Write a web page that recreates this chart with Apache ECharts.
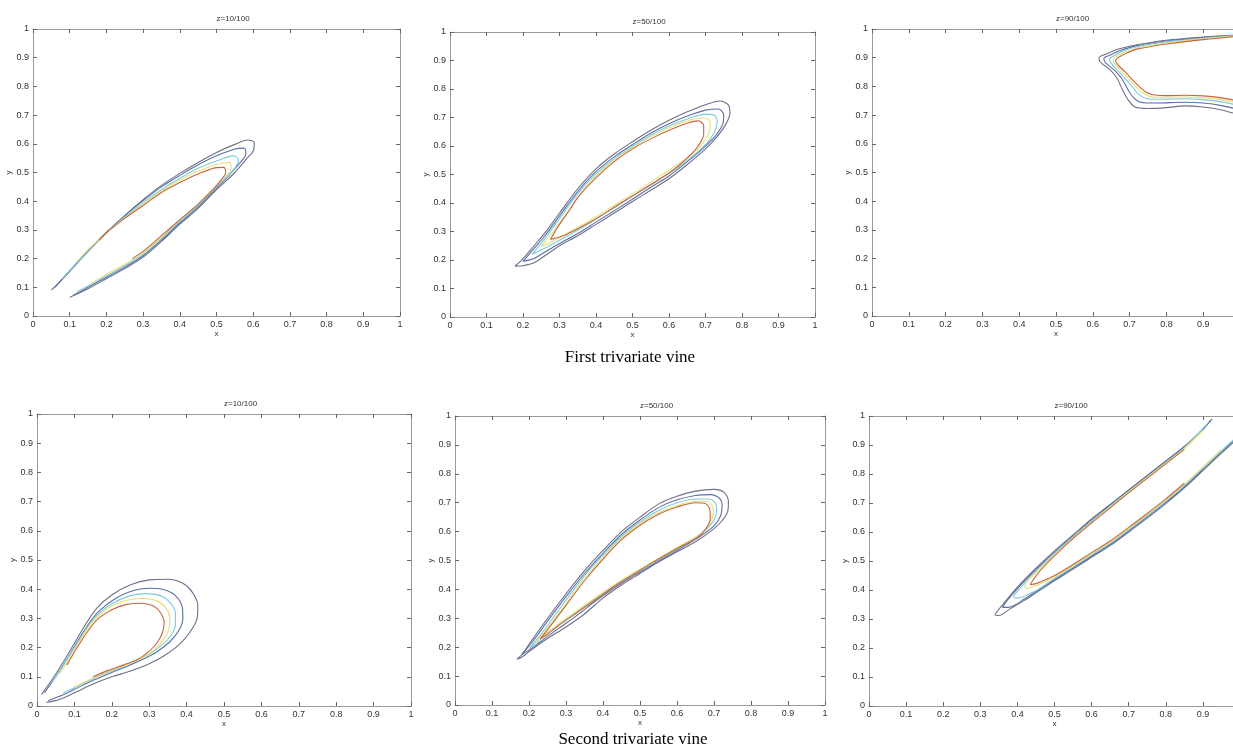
<!DOCTYPE html>
<html>
<head>
<meta charset="utf-8">
<script src="https://cdn.jsdelivr.net/npm/echarts@6/dist/echarts.min.js"></script>
<style>
html,body{margin:0;padding:0;background:#fff;overflow:hidden;width:1233px;height:753px;}
#c{width:1260px;height:753px;}
</style>
</head>
<body>
<div id="c"></div>
<script>
// ---------- text ----------
const tickLabels = ['0','0.1','0.2','0.3','0.4','0.5','0.6','0.7','0.8','0.9','1'];
const panelTitles = ['z=10/100','z=50/100','z=90/100','z=10/100','z=50/100','z=90/100'];
const captions = ['First trivariate vine','Second trivariate vine'];

// ---------- contour data: [x, y] ----------
// First vine, z = 10/100
const v1z10_c1 = [[0.05,0.09],[0.1,0.155],[0.15,0.225],[0.2,0.29],[0.25,0.35],[0.3,0.405],[0.35,0.455],[0.4,0.497],[0.45,0.535],[0.5,0.57],[0.55,0.598],[0.585,0.613],[0.603,0.605],[0.6,0.575],[0.58,0.545],[0.55,0.5],[0.5,0.44],[0.45,0.375],[0.4,0.32],[0.35,0.26],[0.3,0.205],[0.25,0.165],[0.2,0.13],[0.15,0.095],[0.1,0.065]];
const v1z10_c2 = [[0.06,0.1],[0.1,0.158],[0.15,0.228],[0.2,0.292],[0.25,0.35],[0.3,0.402],[0.35,0.45],[0.4,0.49],[0.45,0.527],[0.5,0.558],[0.55,0.582],[0.575,0.585],[0.58,0.565],[0.565,0.535],[0.53,0.485],[0.5,0.445],[0.45,0.38],[0.4,0.325],[0.35,0.265],[0.3,0.21],[0.25,0.17],[0.2,0.135],[0.15,0.1],[0.11,0.072]];
const v1z10_c3 = [[0.08,0.13],[0.12,0.185],[0.15,0.228],[0.2,0.29],[0.25,0.345],[0.3,0.395],[0.35,0.44],[0.4,0.48],[0.45,0.515],[0.5,0.54],[0.545,0.558],[0.56,0.545],[0.55,0.515],[0.52,0.475],[0.5,0.45],[0.45,0.385],[0.4,0.33],[0.35,0.27],[0.3,0.215],[0.25,0.175],[0.2,0.14],[0.15,0.105],[0.12,0.085]];
const v1z10_c4 = [[0.12,0.19],[0.15,0.232],[0.2,0.29],[0.25,0.342],[0.3,0.39],[0.35,0.435],[0.4,0.473],[0.45,0.505],[0.5,0.528],[0.535,0.535],[0.54,0.515],[0.52,0.48],[0.5,0.455],[0.45,0.39],[0.4,0.335],[0.35,0.275],[0.3,0.22],[0.25,0.18],[0.2,0.145],[0.16,0.115]];
const v1z10_c5 = [[0.18,0.265],[0.2,0.29],[0.25,0.34],[0.3,0.385],[0.35,0.43],[0.4,0.465],[0.45,0.495],[0.5,0.517],[0.52,0.518],[0.525,0.5],[0.51,0.47],[0.49,0.44],[0.45,0.39],[0.4,0.335],[0.35,0.28],[0.3,0.225],[0.27,0.2]];

// First vine, z = 50/100
const v1z50_c1 = [[0.178,0.178],[0.2,0.205],[0.23,0.25],[0.26,0.295],[0.3,0.365],[0.35,0.45],[0.4,0.52],[0.45,0.572],[0.5,0.615],[0.55,0.655],[0.6,0.69],[0.65,0.72],[0.7,0.745],[0.74,0.758],[0.762,0.745],[0.767,0.715],[0.755,0.675],[0.73,0.63],[0.7,0.59],[0.65,0.535],[0.6,0.485],[0.55,0.445],[0.5,0.405],[0.45,0.365],[0.4,0.325],[0.35,0.285],[0.3,0.25],[0.26,0.215],[0.23,0.19],[0.2,0.18],[0.178,0.178]];
const v1z50_c2 = [[0.2,0.195],[0.23,0.24],[0.26,0.285],[0.3,0.355],[0.35,0.44],[0.4,0.51],[0.45,0.562],[0.5,0.605],[0.55,0.645],[0.6,0.678],[0.65,0.705],[0.7,0.726],[0.735,0.73],[0.75,0.71],[0.748,0.68],[0.73,0.64],[0.7,0.6],[0.65,0.545],[0.6,0.495],[0.55,0.455],[0.5,0.413],[0.45,0.373],[0.4,0.333],[0.35,0.293],[0.3,0.258],[0.26,0.228],[0.23,0.205],[0.2,0.195]];
const v1z50_c3 = [[0.225,0.22],[0.26,0.275],[0.3,0.345],[0.35,0.432],[0.4,0.502],[0.45,0.555],[0.5,0.598],[0.55,0.638],[0.6,0.67],[0.65,0.695],[0.7,0.712],[0.725,0.708],[0.732,0.685],[0.725,0.65],[0.705,0.612],[0.67,0.57],[0.63,0.53],[0.58,0.488],[0.53,0.448],[0.48,0.408],[0.43,0.368],[0.38,0.328],[0.33,0.29],[0.28,0.255],[0.25,0.235],[0.225,0.22]];
const v1z50_c4 = [[0.25,0.248],[0.28,0.295],[0.32,0.365],[0.36,0.435],[0.4,0.495],[0.45,0.55],[0.5,0.594],[0.55,0.632],[0.6,0.664],[0.65,0.688],[0.69,0.698],[0.71,0.69],[0.713,0.665],[0.703,0.63],[0.685,0.598],[0.65,0.56],[0.6,0.515],[0.55,0.474],[0.5,0.432],[0.45,0.392],[0.4,0.352],[0.35,0.315],[0.3,0.278],[0.265,0.255],[0.25,0.248]];
const v1z50_c5 = [[0.275,0.272],[0.3,0.325],[0.33,0.38],[0.35,0.42],[0.4,0.488],[0.45,0.545],[0.5,0.59],[0.55,0.625],[0.6,0.655],[0.65,0.68],[0.68,0.688],[0.695,0.672],[0.695,0.64],[0.68,0.6],[0.66,0.57],[0.63,0.535],[0.6,0.505],[0.55,0.465],[0.5,0.425],[0.45,0.385],[0.4,0.345],[0.35,0.31],[0.31,0.285],[0.285,0.275],[0.275,0.272]];

// First vine, z = 90/100
const v1z90_c1 = [[1.0,0.98],[0.9,0.972],[0.8,0.961],[0.72,0.945],[0.67,0.93],[0.635,0.912],[0.617,0.9],[0.62,0.885],[0.645,0.86],[0.665,0.83],[0.68,0.79],[0.695,0.755],[0.715,0.728],[0.75,0.723],[0.8,0.726],[0.85,0.732],[0.9,0.728],[0.95,0.718],[1.0,0.7]];
const v1z90_c2 = [[1.0,0.978],[0.9,0.97],[0.8,0.958],[0.72,0.942],[0.675,0.925],[0.645,0.908],[0.63,0.897],[0.635,0.882],[0.66,0.855],[0.68,0.825],[0.695,0.79],[0.71,0.762],[0.73,0.745],[0.77,0.742],[0.85,0.745],[0.9,0.742],[0.95,0.733],[1.0,0.718]];
const v1z90_c3 = [[1.0,0.977],[0.9,0.968],[0.8,0.955],[0.72,0.938],[0.68,0.922],[0.655,0.905],[0.645,0.895],[0.65,0.88],[0.67,0.852],[0.69,0.825],[0.71,0.795],[0.725,0.772],[0.745,0.758],[0.78,0.755],[0.85,0.757],[0.9,0.754],[0.95,0.746],[1.0,0.732]];
const v1z90_c4 = [[1.0,0.976],[0.9,0.966],[0.8,0.952],[0.72,0.934],[0.685,0.918],[0.662,0.903],[0.655,0.893],[0.66,0.878],[0.68,0.85],[0.7,0.823],[0.72,0.795],[0.735,0.778],[0.755,0.765],[0.79,0.762],[0.85,0.763],[0.9,0.761],[0.95,0.754],[1.0,0.74]];
const v1z90_c5 = [[1.0,0.975],[0.9,0.963],[0.8,0.948],[0.72,0.93],[0.69,0.915],[0.668,0.9],[0.662,0.89],[0.668,0.875],[0.69,0.848],[0.71,0.82],[0.73,0.795],[0.745,0.78],[0.765,0.771],[0.8,0.768],[0.85,0.769],[0.9,0.767],[0.95,0.76],[1.0,0.748]];

// Second vine, z = 10/100
const v2z10_c1 = [[0.012,0.04],[0.04,0.09],[0.07,0.15],[0.1,0.215],[0.13,0.28],[0.16,0.335],[0.2,0.38],[0.25,0.415],[0.3,0.432],[0.35,0.434],[0.39,0.42],[0.415,0.39],[0.43,0.345],[0.428,0.3],[0.41,0.255],[0.38,0.21],[0.34,0.172],[0.3,0.145],[0.25,0.12],[0.2,0.1],[0.15,0.075],[0.1,0.045],[0.06,0.022],[0.025,0.012]];
const v2z10_c2 = [[0.02,0.045],[0.05,0.1],[0.08,0.16],[0.11,0.225],[0.14,0.285],[0.17,0.33],[0.21,0.368],[0.25,0.392],[0.3,0.403],[0.34,0.398],[0.37,0.378],[0.388,0.34],[0.39,0.3],[0.38,0.26],[0.355,0.22],[0.32,0.185],[0.28,0.158],[0.24,0.135],[0.2,0.115],[0.15,0.088],[0.1,0.057],[0.06,0.033],[0.03,0.018]];
const v2z10_c3 = [[0.04,0.08],[0.07,0.14],[0.1,0.2],[0.13,0.26],[0.16,0.31],[0.2,0.35],[0.25,0.378],[0.29,0.385],[0.33,0.378],[0.355,0.355],[0.37,0.32],[0.37,0.28],[0.36,0.245],[0.335,0.21],[0.3,0.178],[0.26,0.152],[0.22,0.13],[0.17,0.105],[0.12,0.075],[0.07,0.045]];
const v2z10_c4 = [[0.06,0.11],[0.09,0.17],[0.12,0.235],[0.15,0.29],[0.19,0.335],[0.24,0.362],[0.28,0.368],[0.32,0.36],[0.345,0.335],[0.355,0.3],[0.352,0.26],[0.34,0.23],[0.315,0.195],[0.28,0.165],[0.24,0.142],[0.19,0.118],[0.14,0.09],[0.1,0.065]];
const v2z10_c5 = [[0.08,0.14],[0.1,0.185],[0.13,0.245],[0.16,0.295],[0.2,0.33],[0.24,0.348],[0.28,0.352],[0.31,0.343],[0.33,0.32],[0.34,0.285],[0.335,0.25],[0.32,0.215],[0.3,0.188],[0.27,0.16],[0.23,0.14],[0.19,0.122],[0.15,0.1]];

// Second vine, z = 50/100
const v2z50_c1 = [[0.167,0.158],[0.185,0.18],[0.2,0.21],[0.25,0.3],[0.3,0.385],[0.35,0.465],[0.4,0.535],[0.45,0.6],[0.5,0.65],[0.55,0.695],[0.6,0.722],[0.65,0.74],[0.7,0.746],[0.728,0.735],[0.739,0.705],[0.737,0.67],[0.72,0.635],[0.69,0.6],[0.65,0.565],[0.6,0.53],[0.55,0.495],[0.5,0.455],[0.45,0.415],[0.4,0.37],[0.35,0.315],[0.3,0.27],[0.25,0.23],[0.2,0.185],[0.18,0.165],[0.167,0.158]];
const v2z50_c2 = [[0.18,0.175],[0.21,0.22],[0.25,0.29],[0.3,0.375],[0.35,0.455],[0.4,0.525],[0.45,0.59],[0.5,0.64],[0.55,0.683],[0.6,0.71],[0.65,0.725],[0.69,0.728],[0.715,0.715],[0.722,0.69],[0.718,0.655],[0.7,0.62],[0.67,0.59],[0.63,0.558],[0.58,0.52],[0.53,0.483],[0.48,0.445],[0.43,0.405],[0.38,0.36],[0.33,0.31],[0.28,0.265],[0.23,0.218],[0.2,0.19],[0.18,0.175]];
const v2z50_c3 = [[0.2,0.195],[0.23,0.24],[0.27,0.31],[0.31,0.38],[0.35,0.448],[0.4,0.518],[0.45,0.583],[0.5,0.633],[0.55,0.673],[0.6,0.7],[0.65,0.713],[0.685,0.713],[0.703,0.7],[0.707,0.675],[0.7,0.64],[0.68,0.608],[0.65,0.58],[0.6,0.54],[0.55,0.503],[0.5,0.465],[0.45,0.428],[0.4,0.385],[0.35,0.34],[0.3,0.295],[0.25,0.25],[0.22,0.215],[0.2,0.195]];
const v2z50_c4 = [[0.215,0.21],[0.25,0.265],[0.3,0.35],[0.35,0.438],[0.4,0.51],[0.45,0.577],[0.5,0.628],[0.55,0.665],[0.6,0.69],[0.65,0.705],[0.68,0.705],[0.695,0.69],[0.698,0.665],[0.69,0.63],[0.67,0.6],[0.64,0.573],[0.6,0.545],[0.55,0.508],[0.5,0.47],[0.45,0.432],[0.4,0.39],[0.35,0.345],[0.3,0.3],[0.26,0.26],[0.23,0.23],[0.215,0.21]];
const v2z50_c5 = [[0.23,0.228],[0.25,0.26],[0.3,0.345],[0.35,0.43],[0.4,0.505],[0.45,0.572],[0.5,0.622],[0.55,0.66],[0.6,0.685],[0.65,0.7],[0.675,0.698],[0.688,0.68],[0.69,0.645],[0.678,0.61],[0.655,0.58],[0.62,0.555],[0.58,0.527],[0.53,0.49],[0.48,0.45],[0.43,0.41],[0.38,0.365],[0.33,0.32],[0.28,0.275],[0.25,0.245],[0.23,0.228]];

// Second vine, z = 90/100
const v2z90_c1 = [[0.925,0.99],[0.9,0.955],[0.85,0.895],[0.8,0.845],[0.75,0.795],[0.7,0.745],[0.65,0.695],[0.6,0.645],[0.55,0.59],[0.5,0.535],[0.45,0.475],[0.4,0.41],[0.37,0.365],[0.345,0.325],[0.34,0.315],[0.35,0.312],[0.38,0.335],[0.42,0.365],[0.45,0.39],[0.5,0.432],[0.55,0.472],[0.6,0.513],[0.65,0.553],[0.7,0.6],[0.75,0.648],[0.8,0.698],[0.85,0.752],[0.9,0.812],[0.95,0.872],[1.0,0.93]];
const v2z90_c2 = [[0.92,0.985],[0.9,0.953],[0.85,0.893],[0.8,0.843],[0.75,0.793],[0.7,0.743],[0.65,0.692],[0.6,0.64],[0.55,0.586],[0.5,0.53],[0.45,0.47],[0.4,0.405],[0.37,0.36],[0.36,0.34],[0.375,0.34],[0.42,0.37],[0.45,0.395],[0.5,0.436],[0.55,0.476],[0.6,0.517],[0.65,0.557],[0.7,0.604],[0.75,0.652],[0.8,0.702],[0.85,0.756],[0.9,0.816],[0.95,0.876],[1.0,0.934]];
const v2z90_c3 = [[0.915,0.978],[0.85,0.89],[0.8,0.84],[0.75,0.79],[0.7,0.74],[0.65,0.689],[0.6,0.637],[0.55,0.583],[0.5,0.526],[0.45,0.465],[0.41,0.41],[0.39,0.375],[0.4,0.372],[0.43,0.385],[0.46,0.405],[0.5,0.44],[0.55,0.48],[0.6,0.521],[0.65,0.561],[0.7,0.608],[0.75,0.656],[0.8,0.706],[0.85,0.76],[0.9,0.82],[0.95,0.88],[1.0,0.938]];
const v2z90_c4 = [[0.9,0.95],[0.85,0.888],[0.8,0.838],[0.75,0.788],[0.7,0.738],[0.65,0.686],[0.6,0.634],[0.55,0.58],[0.5,0.522],[0.45,0.46],[0.42,0.415],[0.425,0.405],[0.45,0.415],[0.5,0.445],[0.55,0.484],[0.6,0.525],[0.65,0.565],[0.7,0.612],[0.75,0.66],[0.8,0.71],[0.85,0.764],[0.9,0.824],[0.95,0.884]];
const v2z90_c5 = [[0.85,0.885],[0.8,0.835],[0.75,0.785],[0.7,0.735],[0.65,0.683],[0.6,0.631],[0.55,0.577],[0.5,0.518],[0.46,0.465],[0.44,0.43],[0.435,0.418],[0.45,0.422],[0.5,0.45],[0.55,0.488],[0.6,0.529],[0.65,0.569],[0.7,0.616],[0.75,0.664],[0.8,0.714],[0.85,0.768]];

const panels = [
  [v1z10_c1, v1z10_c2, v1z10_c3, v1z10_c4, v1z10_c5],
  [v1z50_c1, v1z50_c2, v1z50_c3, v1z50_c4, v1z50_c5],
  [v1z90_c1, v1z90_c2, v1z90_c3, v1z90_c4, v1z90_c5],
  [v2z10_c1, v2z10_c2, v2z10_c3, v2z10_c4, v2z10_c5],
  [v2z50_c1, v2z50_c2, v2z50_c3, v2z50_c4, v2z50_c5],
  [v2z90_c1, v2z90_c2, v2z90_c3, v2z90_c4, v2z90_c5]
];

// ---------- layout & style ----------
const gridBoxes = [
  {left:33, top:29, width:367, height:287},
  {left:450, top:32, width:365, height:285},
  {left:872, top:29, width:368, height:287},
  {left:37, top:414, width:374, height:292},
  {left:455, top:416, width:370, height:289},
  {left:869, top:416, width:371, height:290}
];
const levelColors = ['#6f6f88','#5a6fa6','#7ccbdc','#e9df78','#c4673f'];
const frameColor = '#9a9a9a';
const labelColor = '#333';

const grids = [], xAxes = [], yAxes = [], series = [], graphics = [];
gridBoxes.forEach((b, i) => {
  grids.push(Object.assign({containLabel:false}, b));
  const fmt = v => tickLabels[Math.round(v * 10)];
  const common = {
    gridIndex: i, type: 'value', min: 0, max: 1, interval: 0.1,
    splitLine: {show: false},
    axisLine: {show: true, onZero: false, lineStyle: {color: frameColor, width: 1}},
    axisTick: {show: true, inside: true, length: 4, lineStyle: {color: '#666'}}
  };
  xAxes.push(Object.assign({}, common, {
    position: 'bottom',
    axisLabel: {show: true, formatter: fmt, fontSize: 9, color: labelColor, margin: 4, fontFamily: 'Liberation Sans'},
    name: 'x', nameLocation: 'middle', nameGap: 14,
    nameTextStyle: {fontSize: 8, color: labelColor, fontFamily: 'Liberation Sans'}
  }));
  xAxes.push(Object.assign({}, common, {position: 'top', axisLabel: {show: false}}));
  yAxes.push(Object.assign({}, common, {
    position: 'left',
    axisLabel: {show: true, formatter: fmt, fontSize: 9, color: labelColor, margin: 4, fontFamily: 'Liberation Sans'},
    name: 'y', nameLocation: 'middle', nameGap: 20, nameRotate: 90,
    nameTextStyle: {fontSize: 8, color: labelColor, fontFamily: 'Liberation Sans'}
  }));
  yAxes.push(Object.assign({}, common, {position: 'right', axisLabel: {show: false}}));
  panels[i].forEach((arr, j) => {
    series.push({
      type: 'line', xAxisIndex: 2 * i, yAxisIndex: 2 * i, data: arr,
      showSymbol: false, symbol: 'none', smooth: 0.3, silent: true,
      lineStyle: {color: levelColors[j], width: 1.1}, z: 2 + j
    });
  });
  graphics.push({
    type: 'text', left: b.left + b.width / 2, top: b.top - 14,
    style: {text: panelTitles[i], fontSize: 8, fill: labelColor, fontFamily: 'Liberation Sans', textAlign: 'center'}
  });
});
graphics.push({type:'text', x: 630, y: 358,
  style:{text: captions[0], fontSize: 17, fill:'#000', fontFamily:'Liberation Serif', textAlign:'center', textVerticalAlign:'middle'}});
graphics.push({type:'text', x: 633, y: 740,
  style:{text: captions[1], fontSize: 17, fill:'#000', fontFamily:'Liberation Serif', textAlign:'center', textVerticalAlign:'middle'}});

const chart = echarts.init(document.getElementById('c'), null, {renderer: 'canvas'});
chart.setOption({
  animation: false,
  backgroundColor: '#fff',
  grid: grids, xAxis: xAxes, yAxis: yAxes, series: series, graphic: graphics
});
</script>
</body>
</html>
